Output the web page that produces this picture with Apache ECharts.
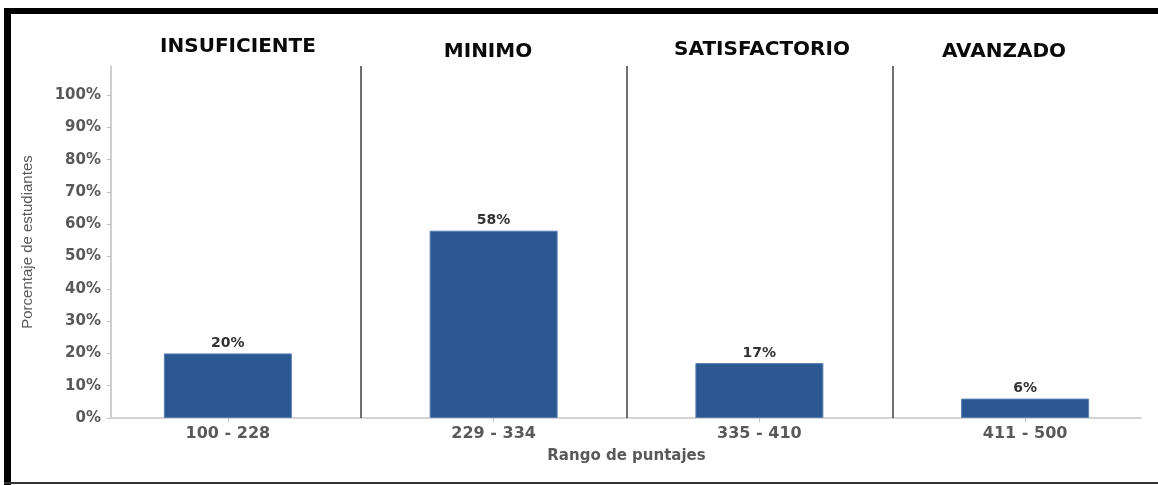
<!DOCTYPE html>
<html>
<head>
<meta charset="utf-8">
<script src="https://cdn.jsdelivr.net/npm/echarts@6/dist/echarts.min.js"></script>
<style>
html,body{margin:0;padding:0;background:#fff;}
#chart{width:1158px;height:485px;}
</style>
</head>
<body>
<div id="chart"></div>
<script>
const categories = ['100 - 228', '229 - 334', '335 - 410', '411 - 500'];
const percentages = [20, 58, 17, 6];
const levels = ['INSUFICIENTE', 'MINIMO', 'SATISFACTORIO', 'AVANZADO'];
const yTickValues = [0, 10, 20, 30, 40, 50, 60, 70, 80, 90, 100];
const separators = [1, 2, 3];

const headerPos = [[238, 47], [488, 52], [762, 50], [1004, 52]];

const chart = echarts.init(document.getElementById('chart'), null, {renderer: 'canvas'});

const graphics = [
  {type: 'rect', shape: {x: 4, y: 8, width: 1154, height: 6}, style: {fill: '#000'}, z: 100},
  {type: 'rect', shape: {x: 4, y: 8, width: 7, height: 477}, style: {fill: '#000'}, z: 100},
  {type: 'rect', shape: {x: 4, y: 482, width: 1154, height: 2}, style: {fill: '#333'}, z: 100}
];
levels.forEach((t, i) => {
  graphics.push({
    type: 'text', x: headerPos[i][0], y: headerPos[i][1], z: 100,
    style: {text: t, fill: '#0a0a0a', font: 'bold 20px "DejaVu Sans"', textAlign: 'center', textVerticalAlign: 'middle'}
  });
});

const option = {
  backgroundColor: '#fff',
  animation: false,
  graphic: graphics,
  grid: [
    {left: 95, right: 0, top: 66, bottom: 67},
    {left: 111, right: 17, top: 66, bottom: 67}
  ],
  xAxis: [
    {
      type: 'category', gridIndex: 0, data: categories,
      axisLine: {show: false},
      axisTick: {show: true, alignWithLabel: true, length: 4, lineStyle: {color: '#bfbfbf'}},
      axisLabel: {margin: 8, color: '#595959', fontFamily: 'DejaVu Sans', fontWeight: 'bold', fontSize: 16},
      splitLine: {show: false},
      name: 'Rango de puntajes', nameLocation: 'middle', nameGap: 31,
      nameTextStyle: {color: '#595959', fontFamily: 'DejaVu Sans', fontWeight: 'bold', fontSize: 15}
    },
    {
      type: 'value', gridIndex: 0, min: 0, max: 4, show: false
    },
    {
      type: 'value', gridIndex: 1, min: 0, max: 1,
      axisLine: {show: true, lineStyle: {color: '#d4d4d4', width: 2}},
      axisTick: {show: false}, axisLabel: {show: false}, splitLine: {show: false}
    }
  ],
  yAxis: [
    {type: 'value', gridIndex: 0, min: 0, max: 109, show: false},
    {
      type: 'value', gridIndex: 1, min: 0, max: 109, interval: 10,
      axisLine: {show: true, lineStyle: {color: '#bfbfbf', width: 1.5}},
      axisTick: {show: true, length: 4, customValues: yTickValues, lineStyle: {color: '#bfbfbf'}},
      axisLabel: {customValues: yTickValues, margin: 10, formatter: '{value}%', color: '#595959',
        fontFamily: 'DejaVu Sans', fontWeight: 'bold', fontSize: 15},
      splitLine: {show: false},
      name: 'Porcentaje de estudiantes', nameLocation: 'middle', nameGap: 76, nameRotate: 90,
      nameTextStyle: {color: '#595959', fontFamily: 'Liberation Sans', fontSize: 15}
    }
  ],
  series: [
    {
      type: 'bar', xAxisIndex: 0, yAxisIndex: 0, data: percentages, barWidth: 128,
      itemStyle: {color: '#2B5890', borderColor: '#5a7fb3', borderWidth: 1},
      label: {show: true, position: 'top', distance: 3, formatter: '{c}%', color: '#333',
        fontFamily: 'DejaVu Sans', fontWeight: 'bold', fontSize: 14}
    },
    {
      type: 'line', xAxisIndex: 1, yAxisIndex: 0, data: [[0, 0]], showSymbol: false,
      lineStyle: {opacity: 0}, silent: true,
      markLine: {
        silent: true, symbol: 'none', label: {show: false},
        lineStyle: {color: '#404040', width: 1.5, type: 'solid'},
        data: separators.map(v => ({xAxis: v}))
      }
    }
  ]
};
chart.setOption(option);
</script>
</body>
</html>
